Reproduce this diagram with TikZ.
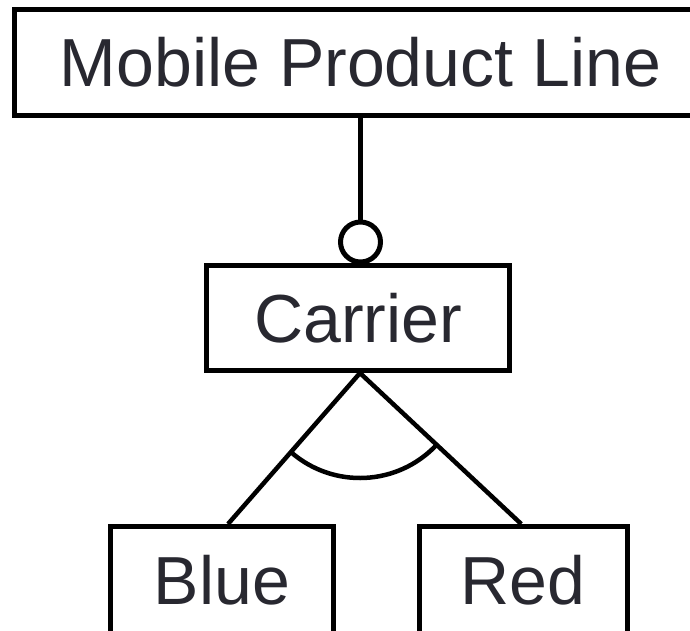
\documentclass[tikz,border=0pt]{standalone}
\usepackage{fontspec}
\setmainfont{Liberation Sans}
\usetikzlibrary{calc}
\definecolor{inkline}{RGB}{0,0,0}
\definecolor{inktext}{RGB}{40,40,48}
\tikzset{
  feature/.style={draw=inkline, line width=5pt, rectangle, inner sep=0pt,
    text=inktext, font=\fontsize{68}{72}\selectfont,
    text height=48pt, text depth=0pt, align=center},
  edge/.style={draw=inkline, line width=5pt},
  thinedge/.style={draw=inkline, line width=4.5pt},
  optional/.style={draw=inkline, line width=5pt, circle, fill=white,
    minimum size=40pt, inner sep=0pt}
}
\begin{document}
\begin{tikzpicture}[x=1pt,y=1pt]
  \useasboundingbox (0,0) rectangle (690,-630);
  \clip (0,0) rectangle (690,-630);

  % feature boxes
  \node[feature, minimum width=692pt, minimum height=106pt] (root) at (360.5,-62.5) {Mobile Product Line};
  \node[feature, minimum width=303pt, minimum height=105pt] (carrier) at (358,-318) {Carrier};
  \node[feature, minimum width=223pt, minimum height=107pt] (blue) at (222,-580) {Blue};
  \node[feature, minimum width=207.5pt, minimum height=107pt] (red) at (523.25,-580) {Red};

  % optional feature marker
  \node[optional] (opt) at (360.5,-242) {};
  \draw[edge] (root.south -| opt.north) -- (opt.north);

  % alternative group
  \coordinate (split) at ($(carrier.south)+(2,0)$);
  \coordinate (blueend) at ($(blue.north)+(6,0)$);
  \coordinate (redend) at ($(red.north)+(-2,0)$);
  \draw[thinedge] (split) -- (blueend);
  \draw[thinedge] (split) -- (redend);
  \draw[thinedge] ($(split)+(229:105)$) arc (229:316.5:105);
\end{tikzpicture}
\end{document}
